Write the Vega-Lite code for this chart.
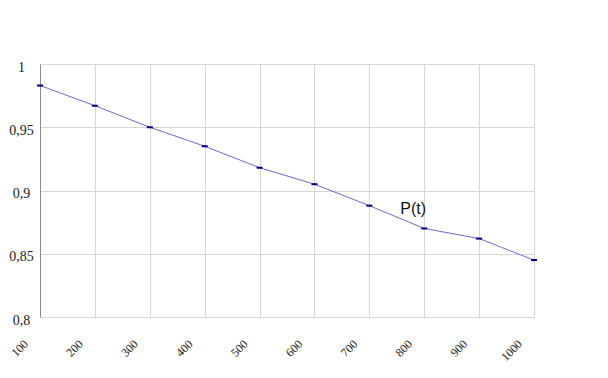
{
  "$schema": "https://vega.github.io/schema/vega-lite/v6.json",
  "width": 494,
  "height": 253,
  "autosize": "none",
  "padding": {"left": 40, "top": 64, "right": 74, "bottom": 61},
  "background": "white",
  "config": {"view": {"stroke": null}},
  "datasets": {
    "series": [
      {"t": 100, "P": 0.983},
      {"t": 200, "P": 0.967},
      {"t": 300, "P": 0.950},
      {"t": 400, "P": 0.935},
      {"t": 500, "P": 0.918},
      {"t": 600, "P": 0.905},
      {"t": 700, "P": 0.888},
      {"t": 800, "P": 0.870},
      {"t": 900, "P": 0.862},
      {"t": 1000, "P": 0.845}
    ],
    "label": [{"t": 780, "P": 0.885, "text": "P(t)"}]
  },
  "layer": [
    {
      "data": {"name": "series"},
      "mark": {"type": "line", "color": "#6b6bcc", "strokeWidth": 1},
      "encoding": {
        "x": {
          "field": "t", "type": "quantitative",
          "scale": {"domain": [100, 1000], "nice": false, "zero": false},
          "axis": {
            "title": null,
            "values": [100,150,200,250,300,350,400,450,500,550,600,650,700,750,800,850,900,950,1000],
            "format": "d",
            "labelExpr": "datum.value % 100 == 0 ? datum.label : ''",
            "labelOverlap": false,
            "labelAngle": -45,
            "labelAlign": "right",
            "labelBaseline": "top",
            "labelOffset": -18,
            "labelPadding": 21,
            "labelFont": "Liberation Serif",
            "labelFontSize": 12,
            "labelColor": "#222222",
            "ticks": false,
            "tickSize": 0,
            "domain": false,
            "grid": true,
            "gridColor": "#d6d6d6",
            "gridWidth": 1
          }
        },
        "y": {
          "field": "P", "type": "quantitative",
          "scale": {"domain": [0.8, 1], "nice": false, "zero": false},
          "axis": {
            "title": null,
            "values": [0.8, 0.85, 0.9, 0.95, 1],
            "format": "~g",
            "labelExpr": "replace(datum.label, '.', ',')",
            "labelAlign": "center",
            "labelBaseline": "middle",
            "labelPadding": 19,
            "labelOffset": 3,
            "labelFont": "Liberation Serif",
            "labelFontSize": 14,
            "labelColor": "#222222",
            "ticks": false,
            "tickSize": 0,
            "domain": true,
            "domainColor": "#8a8a8a",
            "domainWidth": 1,
            "grid": true,
            "gridColor": "#d6d6d6",
            "gridWidth": 1
          }
        }
      }
    },
    {
      "data": {"name": "series"},
      "mark": {"type": "tick", "orient": "horizontal", "color": "#000080", "size": 6, "thickness": 2, "opacity": 1},
      "encoding": {
        "x": {"field": "t", "type": "quantitative"},
        "y": {"field": "P", "type": "quantitative"}
      }
    },
    {
      "data": {"name": "label"},
      "mark": {"type": "text", "font": "Liberation Sans", "fontSize": 16, "color": "#111111", "align": "center", "baseline": "middle"},
      "encoding": {
        "x": {"field": "t", "type": "quantitative"},
        "y": {"field": "P", "type": "quantitative"},
        "text": {"field": "text"}
      }
    }
  ]
}
